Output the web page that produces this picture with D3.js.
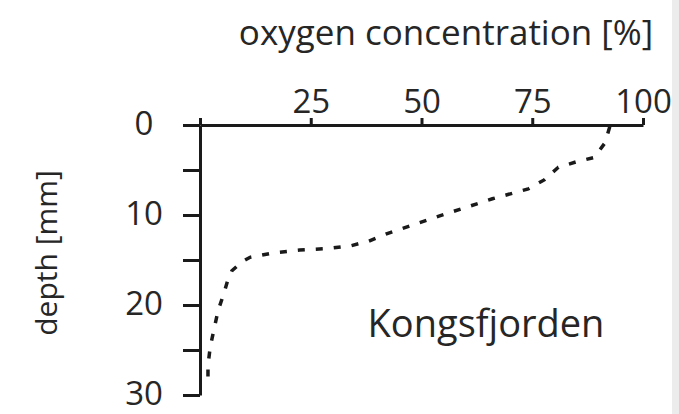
<!DOCTYPE html>
<html>
<head>
<meta charset="utf-8">
<script src="https://cdn.jsdelivr.net/npm/d3@7"></script>
<style>
  body { margin: 0; background: #fff; }
  text { font-family: "Open Sans", Lato, sans-serif; fill: #262626; }
</style>
</head>
<body>
<div id="chart"></div>
<script>
// oxygen profile
var oxygen = [92.5, 91.4, 89.0, 84.9, 80.9, 77.7, 74.1, 66.0, 54.1, 42.1, 38.1, 34.2, 29.3, 22.5, 16.7, 11.3, 9.5, 7.2, 6.3, 5.4, 4.1, 3.2, 2.3, 1.8, 1.8];
var depth  = [0.2, 2.0, 3.6, 4.1, 4.7, 6.1, 7.1, 8.2, 10.1, 12.1, 12.9, 13.4, 13.7, 13.9, 14.2, 14.7, 15.2, 16.2, 17.2, 18.7, 20.6, 22.6, 24.7, 26.7, 29.1];
var xTicks = [0, 25, 50, 75, 100];
var yTicks = [0, 5, 10, 15, 20, 25, 30];
var xTitle = "oxygen concentration [%]";
var yTitle = "depth [mm]";
var site = "Kongsfjorden";

var W = 679, H = 414;

var svg = d3.select("#chart")
  .append("svg")
    .attr("width", W)
    .attr("height", H);

// light grey strip at the right edge
svg.append("rect")
  .attr("x", 672).attr("y", 0)
  .attr("width", 7).attr("height", H)
  .attr("fill", "#ececec");

var x = d3.scaleLinear().domain([0, 100]).range([200, 643]);
var y = d3.scaleLinear().domain([0, 30]).range([125, 395]);

// x axis on top
var xAxis = svg.append("g")
  .attr("transform", "translate(0," + y(0) + ")")
  .call(d3.axisTop(x).tickValues(xTicks).tickSize(7).tickSizeOuter(0)
    .tickFormat(function(d) { return d === 0 ? "" : d; }));

xAxis.selectAll("text")
  .attr("y", -12)
  .attr("font-size", "33px")
  .style("font-family", "'Open Sans', sans-serif")
  .attr("fill", "#262626");

// y axis on the left
var yAxis = svg.append("g")
  .attr("transform", "translate(" + x(0) + ",0)")
  .call(d3.axisLeft(y).tickValues(yTicks).tickSize(17).tickSizeOuter(0)
    .tickFormat(function(d) { return d % 10 === 0 ? d : ""; }));

yAxis.selectAll("text")
  .attr("x", -56)
  .attr("dy", "0.3em")
  .attr("text-anchor", "middle")
  .attr("font-size", "33px")
  .style("font-family", "'Open Sans', sans-serif")
  .attr("fill", "#262626");

svg.selectAll(".domain, .tick line")
  .attr("stroke", "#1a1a1a")
  .attr("stroke-width", 3);

// profile
var line = d3.line()
  .x(function(d, i) { return x(oxygen[i]); })
  .y(function(d, i) { return y(depth[i]); });

svg.append("path")
  .datum(oxygen)
  .attr("d", line)
  .attr("fill", "none")
  .attr("stroke", "#1a1a1a")
  .attr("stroke-width", 3.5)
  .attr("stroke-dasharray", "7,11");

// labels
svg.append("text")
  .attr("x", 446)
  .attr("y", 45)
  .attr("text-anchor", "middle")
  .attr("font-size", "35px")
  .text(xTitle);

svg.append("text")
  .attr("transform", "translate(57,253) rotate(-90)")
  .attr("text-anchor", "middle")
  .attr("font-size", "30px")
  .text(yTitle);

svg.append("text")
  .attr("x", 486)
  .attr("y", 337)
  .attr("text-anchor", "middle")
  .attr("font-size", "38px")
  .text(site);
</script>
</body>
</html>
